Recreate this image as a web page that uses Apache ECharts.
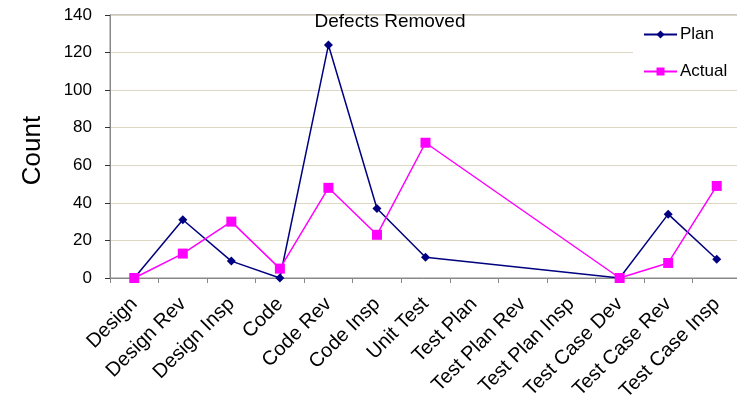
<!DOCTYPE html>
<html>
<head>
<meta charset="utf-8">
<script src="https://cdn.jsdelivr.net/npm/echarts@6/dist/echarts.min.js"></script>
<style>
  html, body { margin: 0; padding: 0; background: #fff; }
  #chart { width: 737px; height: 399px; }
</style>
</head>
<body>
<div id="chart"></div>
<script>
// Development phases on the category axis
var phases = ['Design', 'Design Rev', 'Design Insp', 'Code', 'Code Rev', 'Code Insp',
  'Unit Test', 'Test Plan', 'Test Plan Rev', 'Test Plan Insp', 'Test Case Dev',
  'Test Case Rev', 'Test Case Insp'];

// Defects removed per phase (null = no entry for that phase)
var planDefects = [0, 31, 9, 0, 124, 37, 11, null, null, null, 0, 34, 10];
var actualDefects = [0, 13, 30, 5, 48, 23, 72, null, null, null, 0, 8, 49];

// Value axis range
var countMin = 0, countMax = 140, countStep = 20;

var FONT = 'Liberation Sans, Arial, sans-serif';

var chart = echarts.init(document.getElementById('chart'));
chart.setOption({
  animation: false,
  backgroundColor: '#fff',
  title: {
    text: 'Defects Removed',
    left: 385,
    textAlign: 'center',
    top: 7,
    textStyle: { fontFamily: FONT, fontSize: 19, fontWeight: 'normal', color: '#000' }
  },
  legend: {
    orient: 'vertical',
    left: 633,
    top: 20,
    padding: [6, 12, 6, 10],
    backgroundColor: '#fff',
    itemWidth: 33,
    itemHeight: 10,
    itemGap: 20,
    textStyle: { fontFamily: FONT, fontSize: 17, color: '#000', padding: [0, 0, 0, -2] },
    data: ['Plan', 'Actual']
  },
  grid: {
    left: 110, right: -4, top: 15, bottom: 121,
    outerBoundsMode: 'none',
    containLabel: false,
    show: true, borderColor: '#888', borderWidth: 1
  },
  xAxis: {
    type: 'category',
    data: phases,
    boundaryGap: true,
    axisLine: { lineStyle: { color: '#888', width: 1 } },
    axisTick: { show: true, length: 5, lineStyle: { color: '#888' } },
    axisLabel: {
      rotate: 45, interval: 0, margin: 23,
      fontFamily: FONT, fontSize: 20, color: '#000'
    }
  },
  yAxis: {
    type: 'value',
    min: countMin, max: countMax, interval: countStep,
    name: 'Count',
    nameLocation: 'middle',
    nameGap: 64,
    nameRotate: 90,
    nameTextStyle: { fontFamily: FONT, fontSize: 26, color: '#000', padding: [0, 8, 0, 0] },
    axisLine: { show: true, lineStyle: { color: '#888', width: 1 } },
    axisTick: { show: true, length: 5, lineStyle: { color: '#333' } },
    axisLabel: { fontFamily: FONT, fontSize: 17, color: '#000', margin: 18 },
    splitLine: { show: true, lineStyle: { color: '#ddd8c4', width: 1 } }
  },
  series: [
    {
      name: 'Plan',
      type: 'line',
      data: planDefects,
      connectNulls: true,
      symbol: 'diamond',
      symbolSize: 9,
      itemStyle: { color: '#000080' },
      lineStyle: { color: '#000080', width: 1.5 },
      z: 3
    },
    {
      name: 'Actual',
      type: 'line',
      data: actualDefects,
      connectNulls: true,
      symbol: 'rect',
      symbolSize: 10,
      itemStyle: { color: '#ff00ff' },
      lineStyle: { color: '#ff00ff', width: 1.5 },
      z: 4
    }
  ]
});
</script>
</body>
</html>
